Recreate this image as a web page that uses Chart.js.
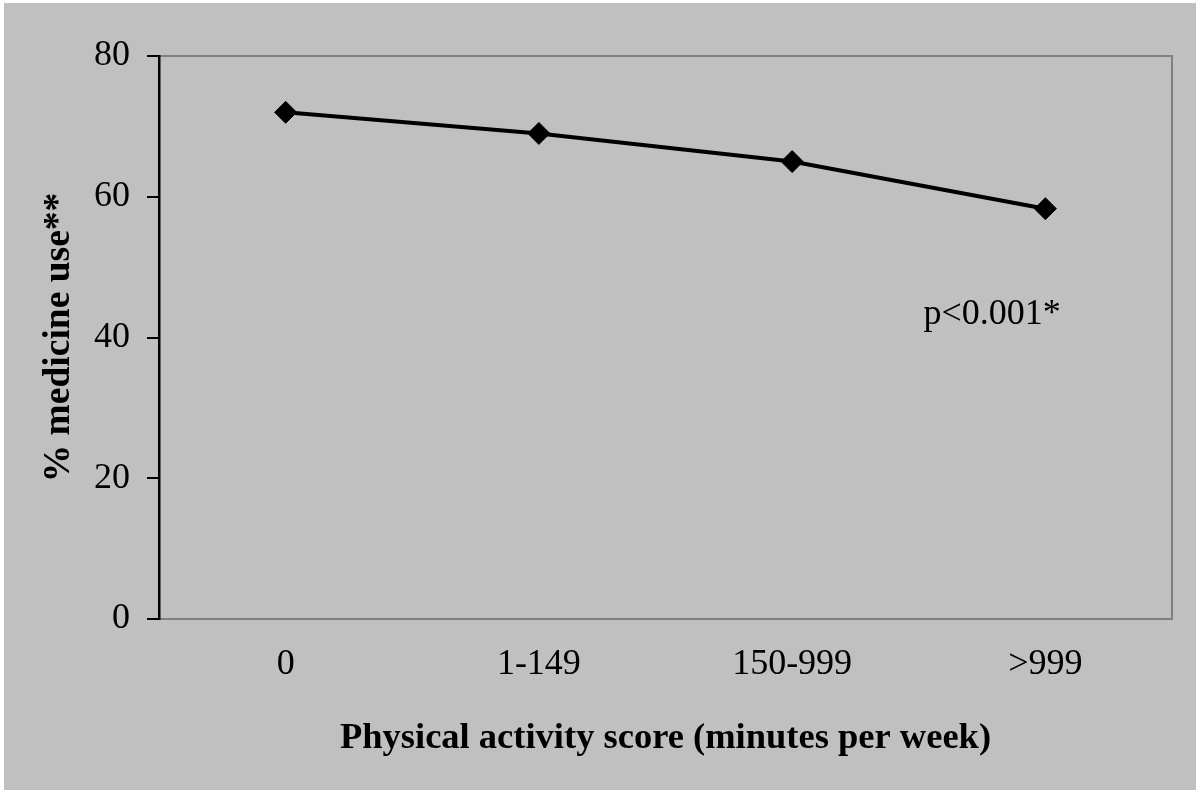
<!DOCTYPE html>
<html>
<head>
<meta charset="utf-8">
<script src="https://cdn.jsdelivr.net/npm/chart.js@4"></script>
<style>
  html, body { margin: 0; padding: 0; background: #fff; }
  #wrap { width: 1200px; height: 794px; }
</style>
</head>
<body>
<div id="wrap"><canvas id="myChart"></canvas></div>
<script>
// data
const categories = ["0", "1-149", "150-999", ">999"]
const medicineUse = [72, 69, 65, 58.3]
const yTicks = [0, 20, 40, 60, 80]
const pText = "p<0.001*"

const serif = "'Liberation Serif', 'Times New Roman', serif"

// gray panel, gray frame round the plot, and the p-value note
const decor = {
    id: "decor",
    beforeDraw(chart) {
        const ctx = chart.ctx
        ctx.save()
        ctx.fillStyle = "#c0c0c0"
        ctx.fillRect(4, 3, 1192, 787)
        const a = chart.chartArea
        ctx.strokeStyle = "#808080"
        ctx.lineWidth = 2
        ctx.strokeRect(a.left, a.top, a.right - a.left, a.bottom - a.top)
        ctx.restore()
    },
    afterDraw(chart) {
        const ctx = chart.ctx
        const x = chart.scales.x.getPixelForValue(2.79)
        const y = chart.scales.y.getPixelForValue(43.2)
        ctx.save()
        ctx.font = "36px " + serif
        ctx.fillStyle = "#000"
        ctx.textAlign = "center"
        ctx.textBaseline = "middle"
        ctx.fillText(pText, x, y)
        ctx.restore()
    }
}

let myChart = new Chart(document.querySelector("#myChart").getContext("2d"), {
    type: "line",
    data: {
        labels: categories,
        datasets: [{
            label: "% medicine use",
            data: medicineUse,
            borderColor: "#000",
            borderWidth: 4,
            backgroundColor: "#000",
            pointStyle: "rectRot",
            pointRadius: 11,
            pointBorderWidth: 1,
            tension: 0
        }]
    },
    options: {
        responsive: true,
        maintainAspectRatio: false,
        animation: false,
        layout: {
            padding: { left: 0, top: 56, right: 28, bottom: 0 }
        },
        plugins: {
            legend: { display: false },
            tooltip: { enabled: false }
        },
        scales: {
            x: {
                offset: true,
                grid: { display: false, drawTicks: false },
                border: { color: "#808080", width: 2 },
                ticks: {
                    color: "#000",
                    padding: 24,
                    font: { family: serif, size: 36 }
                },
                title: {
                    display: true,
                    text: "Physical activity score (minutes per week)",
                    color: "#000",
                    font: { family: serif, size: 36.5, weight: "bold" },
                    padding: { top: 0, bottom: 34 }
                },
                afterFit(scale) { scale.height = 175 }
            },
            y: {
                min: 0,
                max: 80,
                afterBuildTicks(scale) { scale.ticks = yTicks.map(v => ({ value: v })) },
                grid: {
                    drawOnChartArea: false,
                    drawTicks: true,
                    tickLength: 12,
                    color: "#000",
                    lineWidth: 2
                },
                border: { color: "#000", width: 2.5 },
                ticks: {
                    color: "#000",
                    padding: 17,
                    font: { family: serif, size: 36 }
                },
                title: {
                    display: true,
                    text: "% medicine use**",
                    color: "#000",
                    font: { family: serif, size: 37.5, weight: "bold" },
                    padding: { top: 37, bottom: 0 }
                },
                afterFit(scale) { scale.width = 159 }
            }
        }
    },
    plugins: [decor]
})
</script>
</body>
</html>
